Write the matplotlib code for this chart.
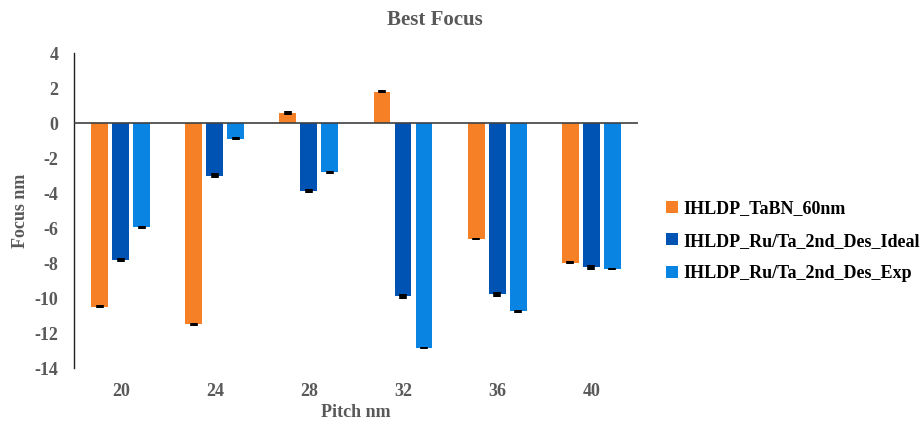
import matplotlib.pyplot as plt
import numpy as np

pitch = ['20', '24', '28', '32', '36', '40']
series_names = ['IHLDP_TaBN_60nm', 'IHLDP_Ru/Ta_2nd_Des_Ideal', 'IHLDP_Ru/Ta_2nd_Des_Exp']
tabn = [-10.5, -11.5, 0.56, 1.78, -6.63, -7.98]
ideal = [-7.82, -3.0, -3.9, -9.9, -9.79, -8.25]
exp = [-5.97, -0.9, -2.82, -12.85, -10.76, -8.34]
errs_tabn = [0.08, 0.08, 0.1, 0.08, 0.08, 0.08]
errs_ideal = [0.12, 0.12, 0.12, 0.14, 0.14, 0.14]
errs_exp = [0.08, 0.08, 0.08, 0.08, 0.08, 0.08]
colors = ['#F58025', '#0053B2', '#0A84E2']

plt.rcParams['font.family'] = ['Liberation Serif', 'DejaVu Serif']
plt.rcParams['font.weight'] = 'bold'
plt.rcParams['axes.labelweight'] = 'bold'
plt.rcParams['axes.unicode_minus'] = False
gray = '#595959'

fig = plt.figure(figsize=(9.21, 4.24), dpi=100)
ax = fig.add_axes([0.080, 0.132, 0.613, 0.743])

x = np.arange(len(pitch))
width = 0.18
step = 0.223
all_vals = [tabn, ideal, exp]
all_errs = [errs_tabn, errs_ideal, errs_exp]
for i, (vals, errs) in enumerate(zip(all_vals, all_errs)):
    pos = x + (i - 1) * step
    ax.bar(pos, vals, width, color=colors[i], label=series_names[i], zorder=2)
    ax.errorbar(pos, vals, yerr=errs, fmt='none', ecolor='black',
                elinewidth=5.5, capsize=0, zorder=3)

ax.set_xlim(-0.5, len(pitch) - 0.5)
ax.set_ylim(-14, 4)
ax.set_yticks(np.arange(-14, 5, 2))
ax.set_xticks(x)
ax.set_xticklabels(pitch)
ax.axhline(0, color='#404040', lw=1.2, zorder=4)

for s in ['top', 'right', 'bottom']:
    ax.spines[s].set_visible(False)
ax.spines['left'].set_color('#202020')
ax.spines['left'].set_linewidth(1.0)
ax.tick_params(axis='both', length=0, labelsize=13, labelcolor=gray)
ax.tick_params(axis='x', pad=11)
ax.tick_params(axis='y', pad=11)

ax.set_ylabel('Focus nm', fontsize=13, color=gray, labelpad=4)
ax.set_xlabel('Pitch nm', fontsize=13, color=gray, labelpad=3)
fig.text(0.472, 0.953, 'Best Focus', fontsize=15, color=gray,
         ha='center', va='center', fontweight='bold')

leg = ax.legend(loc='center left', bbox_to_anchor=(1.02, 0.403), frameon=False,
                prop={'size': 13, 'weight': 'bold'}, handlelength=0.65,
                handleheight=0.65, handletextpad=0.3, labelspacing=0.85)

fig.savefig('out.png', dpi=100)
